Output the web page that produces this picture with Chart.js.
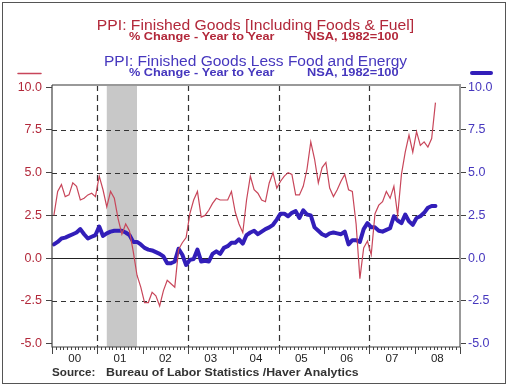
<!DOCTYPE html>
<html>
<head>
<meta charset="utf-8">
<script src="https://cdn.jsdelivr.net/npm/chart.js@4.4.1/dist/chart.umd.min.js"></script>
<style>
  body { margin: 0; background: #fff; }
  canvas { display: block; }
</style>
</head>
<body>
<canvas id="ppiChart" width="510" height="386"></canvas>
<script>
// year tick labels, one per calendar year on the x axis
const years = ['00', '01', '02', '03', '04', '05', '06', '07', '08'];
const monthNames = ['Jan', 'Feb', 'Mar', 'Apr', 'May', 'Jun', 'Jul', 'Aug', 'Sep', 'Oct', 'Nov', 'Dec'];

// PPI finished goods, % change year to year (Jan 2000 - Jun 2008)
const ppiAll = [
  2.5, 3.9, 4.3, 3.6, 3.7, 4.4, 4.2, 3.4, 3.5, 3.7, 3.8, 3.6,
  4.8, 4.0, 3.0, 3.9, 3.5, 2.3, 1.4, 2.0, 1.6, 0.4, -1.0, -1.7,
  -2.6, -2.6, -2.0, -2.2, -2.8, -1.9, -1.3, -1.5, -1.7, 0.5, 0.9, 1.2,
  2.6, 3.4, 3.9, 2.4, 2.5, 2.8, 3.2, 3.5, 3.4, 3.4, 3.4, 3.9,
  2.7, 2.0, 1.5, 3.4, 4.8, 4.0, 3.8, 3.4, 3.3, 4.4, 5.0, 4.1,
  4.5, 4.8, 5.0, 4.9, 3.7, 3.7, 4.2, 5.2, 6.8, 5.8, 4.4, 5.3,
  5.6, 4.1, 3.6, 4.0, 4.5, 4.9, 4.0, 3.9, 2.0, -1.2, 0.6, 1.0,
  0.2, 2.6, 3.1, 3.3, 3.9, 3.5, 4.2, 2.5, 4.9, 6.2, 7.2, 6.2,
  7.4, 6.6, 6.8, 6.5, 7.0, 9.1
];

// PPI finished goods less food and energy, % change year to year
const ppiCore = [
  0.8, 0.95, 1.15, 1.2, 1.3, 1.4, 1.5, 1.7, 1.4, 1.15, 1.25, 1.35,
  1.85, 1.3, 1.45, 1.55, 1.6, 1.6, 1.6, 1.5, 1.35, 0.95, 0.95, 0.8,
  0.6, 0.5, 0.45, 0.35, 0.25, 0.1, -0.3, -0.3, -0.2, 0.55, 0.2, -0.4,
  -0.1, -0.05, 0.5, -0.2, -0.15, -0.2, 0.25, 0.4, 0.25, 0.6, 0.7, 0.9,
  0.9, 1.1, 0.85, 1.35, 1.5, 1.6, 1.4, 1.55, 1.7, 1.8, 1.95, 2.25,
  2.6, 2.6, 2.45, 2.65, 2.75, 2.35, 2.8, 2.55, 2.5, 1.8, 1.6, 1.4,
  1.3, 1.45, 1.5, 1.45, 1.4, 1.55, 0.8, 1.05, 1.05, 0.95, 1.7, 2.05,
  1.8, 1.8, 1.6, 1.55, 1.65, 1.75, 2.45, 2.2, 2.05, 2.55, 2.15, 1.95,
  2.35, 2.45, 2.65, 2.95, 3.05, 3.05
];

const yTicks = [-5, -2.5, 0, 2.5, 5, 7.5, 10];
const dashedLevels = [-2.5, 2.5, 5, 7.5];
const dashedYears = ['01', '03', '05', '07'];
// recession, Mar 2001 - Nov 2001 (month index)
const recession = [14, 22];

const months = [];
years.forEach(y => monthNames.forEach(m => months.push(m + ' ' + y)));

const RED = 'rgb(178,40,58)';
const BLUE = 'rgb(70,55,190)';
const FONT = '"Liberation Sans", Arial, sans-serif';

// text drawn a bit wider than Arial, like the original
function wideText(ctx, text, x, y, font, color, align, sx) {
  ctx.save();
  ctx.font = font;
  ctx.fillStyle = color;
  ctx.textBaseline = 'middle';
  ctx.textAlign = align;
  ctx.translate(x, y);
  ctx.scale(sx, 1);
  ctx.fillText(text, 0, 0);
  ctx.restore();
}

const decor = {
  id: 'decor',
  beforeDraw(chart) {
    const { ctx, chartArea: a, scales } = chart;
    const x = scales.x, y = scales.y;
    ctx.save();
    ctx.fillStyle = '#fff';
    ctx.fillRect(0, 0, chart.width, chart.height);
    // outer frame
    ctx.strokeStyle = '#555';
    ctx.lineWidth = 1;
    ctx.strokeRect(2.5, 2.5, 503, 381);
    // recession band
    ctx.fillStyle = '#c8c8c8';
    const r0 = x.getPixelForValue(recession[0]), r1 = x.getPixelForValue(recession[1]);
    ctx.fillRect(r0, a.top, r1 - r0, a.bottom - a.top);
    // dashed grid
    ctx.strokeStyle = '#333';
    ctx.lineWidth = 1.2;
    ctx.setLineDash([5, 4]);
    dashedLevels.forEach(v => {
      const py = Math.round(y.getPixelForValue(v)) + 0.5;
      ctx.beginPath(); ctx.moveTo(a.left, py); ctx.lineTo(a.right, py); ctx.stroke();
    });
    ctx.setLineDash([6, 4]);
    dashedYears.forEach(yr => {
      const px = Math.round(x.getPixelForValue(years.indexOf(yr) * 12 - 0.5)) + 0.5;
      ctx.beginPath(); ctx.moveTo(px, a.top); ctx.lineTo(px, a.bottom); ctx.stroke();
    });
    ctx.setLineDash([]);
    // zero line
    ctx.strokeStyle = '#222';
    ctx.lineWidth = 1;
    const zy = Math.round(y.getPixelForValue(0)) + 0.5;
    ctx.beginPath(); ctx.moveTo(a.left, zy); ctx.lineTo(a.right, zy); ctx.stroke();
    ctx.restore();
  },
  afterDraw(chart) {
    const { ctx, chartArea: a, scales } = chart;
    const x = scales.x;
    ctx.save();
    // plot frame
    ctx.strokeStyle = '#999';
    ctx.lineWidth = 2;
    ctx.beginPath(); ctx.moveTo(a.left, a.top); ctx.lineTo(a.right, a.top); ctx.lineTo(a.right, a.bottom); ctx.stroke();
    ctx.strokeStyle = '#444';
    ctx.lineWidth = 1.2;
    ctx.beginPath(); ctx.moveTo(a.left, a.top); ctx.lineTo(a.left, a.bottom); ctx.lineTo(a.right, a.bottom); ctx.stroke();
    // month and year ticks
    ctx.lineWidth = 1;
    for (let i = 0; i <= months.length; i++) {
      const px = Math.round(x.getPixelForValue(i - 0.5)) + 0.5;
      const len = i % 12 === 0 ? 7 : 3;
      ctx.beginPath(); ctx.moveTo(px, a.bottom); ctx.lineTo(px, a.bottom + len); ctx.stroke();
    }
    // year labels
    years.forEach((yr, k) => wideText(ctx, yr, x.getPixelForValue(k * 12 + 5.5), a.bottom + 12,
      '11px ' + FONT, '#222', 'center', 1.05));
    // source
    wideText(ctx, 'Source:', 52, 373, 'bold 11px ' + FONT, '#333', 'left', 1.06);
    wideText(ctx, 'Bureau of Labor Statistics /Haver Analytics', 106, 373, 'bold 11px ' + FONT, '#333', 'left', 1.12);
    // titles
    wideText(ctx, 'PPI: Finished Goods [Including Foods & Fuel]', 255.5, 26, '14px ' + FONT, RED, 'center', 1.12);
    wideText(ctx, 'PPI: Finished Goods Less Food and Energy', 255.5, 62, '14px ' + FONT, BLUE, 'center', 1.11);
    const sub = 'bold 10.5px ' + FONT;
    wideText(ctx, '% Change - Year to Year', 129, 37.5, sub, RED, 'left', 1.21);
    wideText(ctx, 'NSA, 1982=100', 307, 37.5, sub, RED, 'left', 1.22);
    wideText(ctx, '% Change - Year to Year', 129, 73.5, sub, BLUE, 'left', 1.21);
    wideText(ctx, 'NSA, 1982=100', 307, 73.5, sub, BLUE, 'left', 1.22);
    // legend keys
    ctx.lineCap = 'round';
    ctx.strokeStyle = 'rgb(200,70,90)';
    ctx.lineWidth = 1.5;
    ctx.beginPath(); ctx.moveTo(18, 73.5); ctx.lineTo(41, 73.5); ctx.stroke();
    ctx.strokeStyle = 'rgb(50,30,185)';
    ctx.lineWidth = 4;
    ctx.beginPath(); ctx.moveTo(472, 73); ctx.lineTo(491, 73); ctx.stroke();
    ctx.restore();
  }
};

const yAxis = (pos, color, width, pad) => ({
  type: 'linear',
  position: pos,
  min: -5.2,
  max: 10.13,
  afterBuildTicks: s => { s.ticks = yTicks.map(v => ({ value: v })); },
  afterFit: s => { s.width = width; },
  grid: { drawOnChartArea: false, drawTicks: true, tickLength: 6, tickColor: '#444' },
  border: { display: false },
  ticks: {
    color: color,
    padding: pad,
    font: { family: FONT, size: 12.5 },
    callback: v => v.toFixed(1)
  }
});

new Chart(document.getElementById('ppiChart'), {
  type: 'line',
  data: {
    labels: months,
    datasets: [
      {
        label: 'PPI: Finished Goods',
        data: ppiAll,
        yAxisID: 'y',
        borderColor: 'rgb(200,70,90)',
        borderWidth: 1.2,
        pointRadius: 0,
        tension: 0
      },
      {
        label: 'PPI: Finished Goods Less Food and Energy',
        data: ppiCore,
        yAxisID: 'y2',
        borderColor: 'rgb(50,30,185)',
        borderWidth: 4,
        borderJoinStyle: 'round',
        borderCapStyle: 'round',
        pointRadius: 0,
        tension: 0
      }
    ]
  },
  options: {
    responsive: false,
    animation: false,
    devicePixelRatio: 1,
    layout: { padding: { top: 85, left: 0, right: 0, bottom: 0 } },
    plugins: { legend: { display: false }, tooltip: { enabled: false } },
    scales: {
      x: {
        type: 'category',
        offset: true,
        afterFit: s => { s.height = 39; },
        ticks: { display: false },
        grid: { display: false },
        border: { display: false }
      },
      y: yAxis('left', RED, 52, 4),
      y2: yAxis('right', BLUE, 50, 2)
    }
  },
  plugins: [decor]
});
</script>
</body>
</html>
